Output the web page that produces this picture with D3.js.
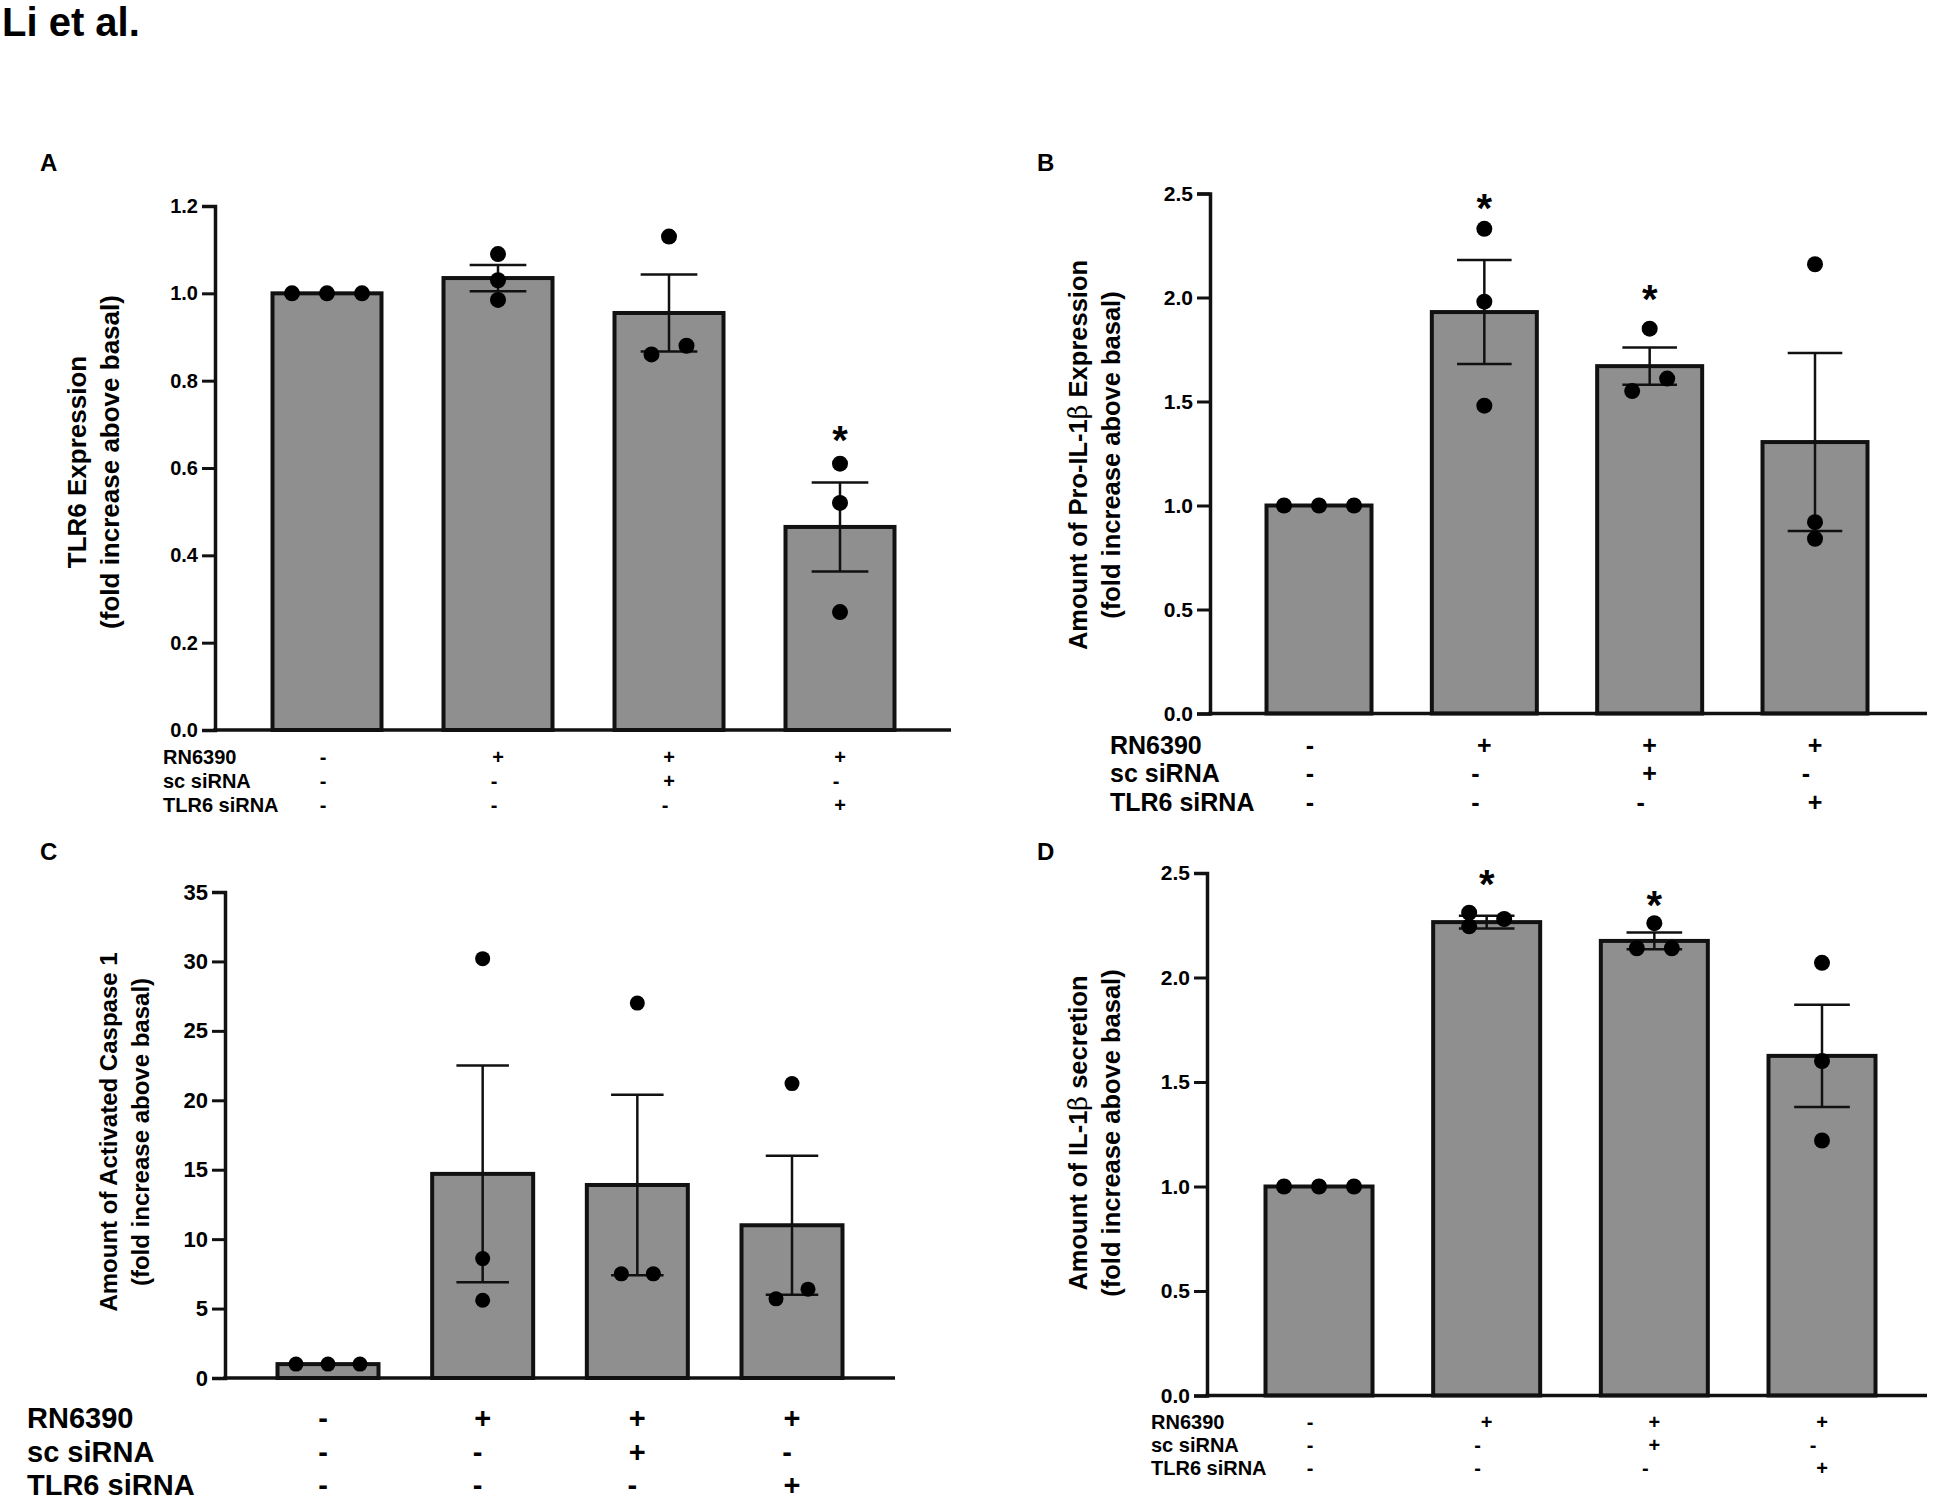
<!DOCTYPE html>
<html>
<head>
<meta charset="utf-8">
<script src="https://cdn.jsdelivr.net/npm/d3@7"></script>
<style>
  body { margin: 0; background: #fff; }
  text { font-family: "Liberation Sans", Arial, sans-serif; font-weight: bold; fill: #000; }
</style>
</head>
<body>
<div id="wrap"></div>
<script>
// groups and treatment table
var groups = ['ctrl', 'RN', 'RN+sc', 'RN+TLR6'];
var rowLabels = ['RN6390', 'sc siRNA', 'TLR6 siRNA'];
var treatments = [
  ['-', '+', '+', '+'],
  ['-', '-', '+', '-'],
  ['-', '-', '-', '+']
];
// how the three replicate dots sit around the bar centre (-1 left, 0 centre, 1 right)
var dotSpreadA = [[-1, 0, 1], [0, 0, 0], [0, -0.5, 0.5], [0, 0, 0]];
var dotSpreadB = [[-1, 0, 1], [0, 0, 0], [0, -0.5, 0.5], [0, 0, 0]];
var dotSpreadC = [[-1, 0, 1], [0, 0, 0], [0, -0.5, 0.5], [0, -0.5, 0.5]];
var dotSpreadD = [[-1, 0, 1], [-0.5, -0.5, 0.5], [0, -0.5, 0.5], [0, 0, 0]];

// A: TLR6 expression
var tlr6Mean = [1.0, 1.035, 0.955, 0.465];
var tlr6Sem = [0, 0.03, 0.088, 0.102];
var tlr6Points = [[1, 1, 1], [1.09, 1.03, 0.985], [1.13, 0.86, 0.88], [0.61, 0.52, 0.27]];
var tlr6Star = [null, null, null, 0.687];
var tlr6Ticks = [0, 0.2, 0.4, 0.6, 0.8, 1.0, 1.2];

// B: Pro-IL-1beta
var proMean = [1.0, 1.93, 1.67, 1.305];
var proSem = [0, 0.25, 0.09, 0.428];
var proPoints = [[1, 1, 1], [2.33, 1.98, 1.48], [1.85, 1.55, 1.61], [2.16, 0.92, 0.84]];
var proStar = [null, 2.476, 2.04, null];
var proTicks = [0, 0.5, 1.0, 1.5, 2.0, 2.5];

// C: activated caspase 1
var caspMean = [1.0, 14.7, 13.9, 11.0];
var caspSem = [0, 7.8, 6.5, 5.0];
var caspPoints = [[1, 1, 1], [30.2, 8.6, 5.6], [27.0, 7.5, 7.5], [21.2, 5.7, 6.4]];
var caspStar = [null, null, null, null];
var caspTicks = [0, 5, 10, 15, 20, 25, 30, 35];

// D: IL-1beta secretion
var secMean = [1.0, 2.265, 2.175, 1.625];
var secSem = [0, 0.03, 0.04, 0.245];
var secPoints = [[1, 1, 1], [2.31, 2.245, 2.28], [2.26, 2.14, 2.14], [2.07, 1.60, 1.22]];
var secStar = [null, 2.495, 2.395, null];
var secTicks = [0, 0.5, 1.0, 1.5, 2.0, 2.5];

var W = 1935, H = 1502;
var svg = d3.select('#wrap').append('svg')
    .attr('width', W)
    .attr('height', H);

svg.append('text')
  .attr('x', 2).attr('y', 36)
  .attr('font-size', 40)
  .text('Li et al.');

function drawPanel(p) {
  var y = d3.scaleLinear().domain(p.domain).range([p.y0, p.y1]);
  var step = (p.cLast - p.cFirst) / 3;
  var x = d3.scaleBand()
    .domain(groups)
    .range([p.cFirst - p.bw / 2, p.cLast + p.bw / 2])
    .paddingInner(1 - p.bw / step)
    .paddingOuter(0);
  var g = svg.append('g');

  g.append('text')
    .attr('x', p.letterX).attr('y', p.letterY)
    .attr('font-size', 24)
    .text(p.letter);

  // bars
  g.selectAll('.bar')
    .data(p.mean)
    .enter().append('rect')
      .attr('x', function(d, i){ return x(groups[i]); })
      .attr('y', function(d){ return y(d); })
      .attr('width', x.bandwidth())
      .attr('height', function(d){ return y(0) - y(d); })
      .attr('fill', '#8f8f8f')
      .attr('stroke', '#111')
      .attr('stroke-width', 4);

  // error bars (SEM)
  var cap = x.bandwidth() * 0.26;
  p.mean.forEach(function(m, i){
    if (!p.sem[i]) return;
    var cx = x(groups[i]) + x.bandwidth() / 2;
    var eg = g.append('g').attr('stroke', '#111').attr('stroke-width', 2.5);
    eg.append('line').attr('x1', cx).attr('x2', cx)
      .attr('y1', y(m - p.sem[i])).attr('y2', y(m + p.sem[i]));
    eg.append('line').attr('x1', cx - cap).attr('x2', cx + cap)
      .attr('y1', y(m + p.sem[i])).attr('y2', y(m + p.sem[i]));
    eg.append('line').attr('x1', cx - cap).attr('x2', cx + cap)
      .attr('y1', y(m - p.sem[i])).attr('y2', y(m - p.sem[i]));
  });

  // replicate dots
  var dots = [];
  p.points.forEach(function(arr, i){
    arr.forEach(function(v, j){ dots.push({i: i, v: v, s: p.spread[i][j]}); });
  });
  g.selectAll('.dot')
    .data(dots)
    .enter().append('circle')
      .attr('cx', function(d){ return x(groups[d.i]) + x.bandwidth() / 2 + d.s * p.dotGap; })
      .attr('cy', function(d){ return y(d.v); })
      .attr('r', p.r)
      .attr('fill', '#000');

  // significance stars (centred on the value)
  g.selectAll('.star')
    .data(p.star.map(function(v, i){ return {v: v, i: i}; }).filter(function(d){ return d.v != null; }))
    .enter().append('text')
      .attr('x', function(d){ return x(groups[d.i]) + x.bandwidth() / 2; })
      .attr('y', function(d){ return y(d.v); })
      .attr('text-anchor', 'middle')
      .attr('dy', '0.6em')
      .attr('font-size', 40)
      .text('*');

  // axes
  var yAxis = d3.axisLeft(y)
    .tickValues(p.ticks)
    .tickFormat(p.fmt)
    .tickSizeOuter(0)
    .tickSize(13)
    .tickPadding(4);
  var ya = g.append('g')
    .attr('transform', 'translate(' + p.x0 + ',0)')
    .call(yAxis);
  ya.select('.domain').attr('stroke', '#111').attr('stroke-width', 3.5);
  ya.selectAll('.tick line').attr('stroke', '#111').attr('stroke-width', 3);
  ya.selectAll('.tick text')
    .attr('font-size', p.tickFs)
    .attr('font-family', null)
    .attr('fill', '#000');

  g.append('line')
    .attr('x1', p.x0 - 1.75).attr('x2', p.x1)
    .attr('y1', y(0)).attr('y2', y(0))
    .attr('stroke', '#111').attr('stroke-width', 3.5);

  // y title, two lines
  var t = g.append('text')
    .attr('transform', 'translate(' + p.titleX + ',' + p.titleY + ') rotate(-90)')
    .attr('text-anchor', 'middle')
    .attr('font-size', p.titleFs);
  var first = t.append('tspan').attr('x', 0).attr('dy', 0);
  if (p.beta) {
    first.append('tspan').text(p.title[0]);
    first.append('tspan').attr('font-family', '"DejaVu Serif", serif').attr('font-weight', 'normal').text('\u03b2');
    first.append('tspan').text(p.title[2]);
  } else {
    first.text(p.title[0]);
  }
  t.append('tspan').attr('x', 0).attr('dy', p.titleGap).text(p.title[1]);

  // treatment table
  rowLabels.forEach(function(lab, r){
    var ry = p.rowY[r];
    g.append('text')
      .attr('x', p.labelX).attr('y', ry)
      .attr('dy', '0.35em')
      .attr('font-size', p.tableFs)
      .text(lab);
    g.selectAll('.sym' + r)
      .data(treatments[r])
      .enter().append('text')
        .attr('x', function(d, i){
          return x(groups[i]) + x.bandwidth() / 2 + (d === '-' ? p.dashShift : 0);
        })
        .attr('y', ry)
        .attr('dy', '0.35em')
        .attr('text-anchor', 'middle')
        .attr('font-size', p.tableFs)
        .text(function(d){ return d; });
  });
}

var f1 = d3.format('.1f');

drawPanel({
  letter: 'A', letterX: 40, letterY: 171,
  domain: [0, 1.2], y0: 730, y1: 206, x0: 215, x1: 951,
  cFirst: 327, cLast: 840, bw: 109,
  mean: tlr6Mean, sem: tlr6Sem, points: tlr6Points, star: tlr6Star, spread: dotSpreadA,
  ticks: tlr6Ticks, fmt: f1, tickFs: 20, r: 8, dotGap: 35,
  title: ['TLR6 Expression', '(fold increase above basal)'], titleX: 86, titleY: 462, titleFs: 26, titleGap: 33,
  rowY: [757, 781, 805], labelX: 163, tableFs: 20, dashShift: -4
});

drawPanel({
  letter: 'B', letterX: 1037, letterY: 171,
  domain: [0, 2.5], y0: 713.5, y1: 193.5, x0: 1210, x1: 1927,
  cFirst: 1319, cLast: 1815, bw: 105,
  mean: proMean, sem: proSem, points: proPoints, star: proStar, spread: dotSpreadB,
  ticks: proTicks, fmt: f1, tickFs: 21, r: 8, dotGap: 35,
  beta: true,
  title: ['Amount of Pro-IL-1', '(fold increase above basal)', ' Expression'], titleX: 1087, titleY: 455, titleFs: 25.5, titleGap: 33,
  rowY: [745, 773, 802], labelX: 1110, tableFs: 25, dashShift: -9
});

drawPanel({
  letter: 'C', letterX: 40, letterY: 860,
  domain: [0, 35], y0: 1378, y1: 892, x0: 225, x1: 895,
  cFirst: 328, cLast: 792, bw: 101,
  mean: caspMean, sem: caspSem, points: caspPoints, star: caspStar, spread: dotSpreadC,
  ticks: caspTicks, fmt: d3.format('d'), tickFs: 22, r: 7.5, dotGap: 32,
  title: ['Amount of Activated Caspase 1', '(fold increase above basal)'], titleX: 117, titleY: 1132, titleFs: 24, titleGap: 32,
  rowY: [1418, 1452, 1485], labelX: 27, tableFs: 29, dashShift: -5
});

drawPanel({
  letter: 'D', letterX: 1037, letterY: 860,
  domain: [0, 2.5], y0: 1395.5, y1: 873, x0: 1207, x1: 1927,
  cFirst: 1319, cLast: 1822, bw: 107,
  mean: secMean, sem: secSem, points: secPoints, star: secStar, spread: dotSpreadD,
  ticks: secTicks, fmt: f1, tickFs: 21, r: 8, dotGap: 35,
  beta: true,
  title: ['Amount of IL-1', '(fold increase above basal)', ' secretion'], titleX: 1087, titleY: 1133, titleFs: 25.5, titleGap: 33,
  rowY: [1422, 1445, 1468], labelX: 1151, tableFs: 20, dashShift: -9
});
</script>
</body>
</html>
